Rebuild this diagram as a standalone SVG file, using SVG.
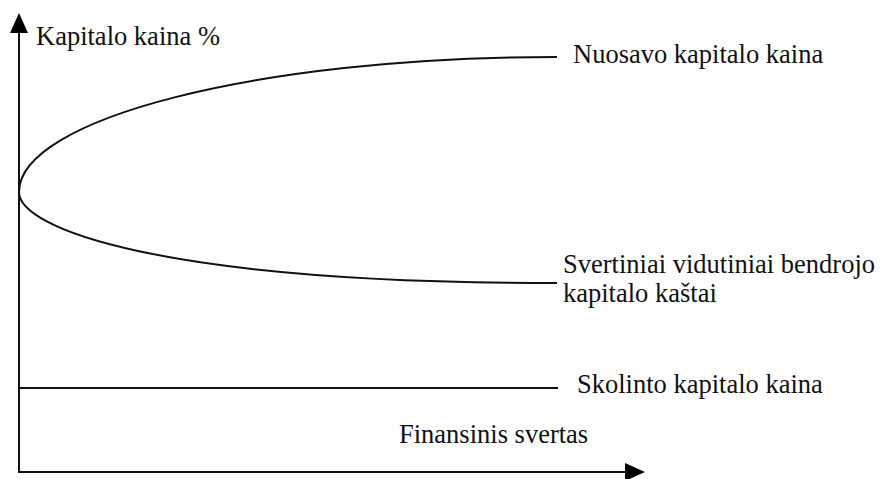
<svg xmlns="http://www.w3.org/2000/svg" width="882" height="479" viewBox="0 0 882 479">
<style>
.ln{fill:none;stroke:#111;stroke-width:2}
.ah{fill:#000}
.t{font-size:26.5px;fill:#111}
</style>
<rect width="882" height="479" fill="#fff"/>
<g id="axes">
<line class="ln" x1="19" y1="473" x2="19" y2="28"/>
<polygon class="ah" points="19,13 28,33 10,33"/>
<line class="ln" x1="18" y1="472" x2="630" y2="472"/>
<polygon class="ah" points="645,472 625,481 625,463"/>
</g>
<g id="connectors">
<path id="nuosavo-curve" class="ln" d="M19,192 C19,119 257,57 557,57"/>
<path id="wacc-curve" class="ln" d="M19,192 C19,228 157,283 557,283"/>
<line id="skolinto-line" class="ln" x1="19" y1="388" x2="558" y2="388"/>
</g>
<g font-family="Liberation Serif, Times New Roman, serif">
<g id="label-y"><text class="t" x="36" y="45">Kapitalo kaina %</text></g>
<g id="label-nuosavo"><text class="t" x="573" y="63">Nuosavo kapitalo kaina</text></g>
<g id="label-wacc"><text class="t" x="563" y="273">Svertiniai vidutiniai bendrojo</text><text class="t" x="563" y="302">kapitalo kaštai</text></g>
<g id="label-skolinto"><text class="t" x="577" y="393">Skolinto kapitalo kaina</text></g>
<g id="label-x"><text class="t" x="399" y="443">Finansinis svertas</text></g>
</g>
</svg>
